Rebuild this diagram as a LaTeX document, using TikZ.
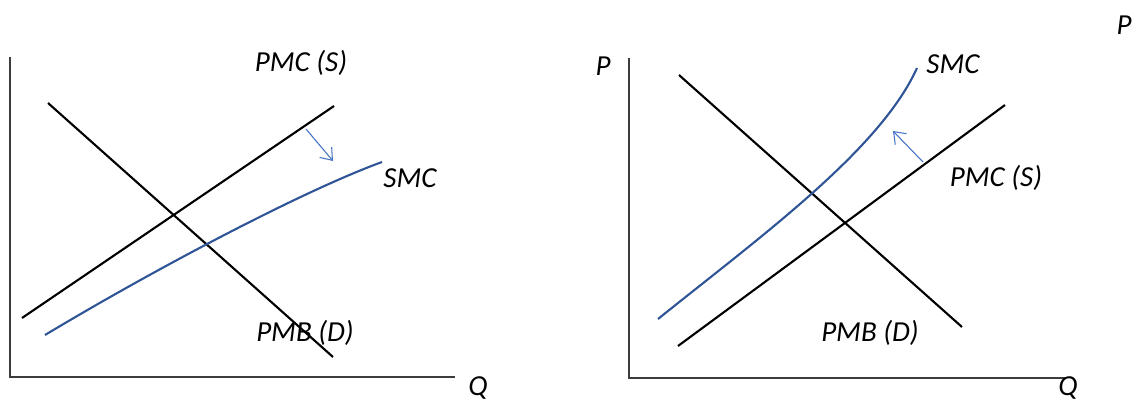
\documentclass[tikz,border=0pt]{standalone}
\usepackage{fontspec}
\setmainfont{Carlito}
\usetikzlibrary{positioning,calc,arrows.meta}
\definecolor{CurveBlue}{RGB}{47,85,151}
\definecolor{ShiftBlue}{RGB}{68,114,196}
\definecolor{AxisGray}{RGB}{60,60,60}

\begin{document}
\begin{tikzpicture}[%
      x=0.02cm, y=-0.02cm,
      lbl/.style={font=\fontsize{16.5}{19}\selectfont\itshape, inner sep=0pt},
      axis/.style={line width=0.7pt, AxisGray},
      curve/.style={line width=1.2pt, black},
      smc/.style={line width=1.2pt, CurveBlue},
      shiftarrow/.style={-{Straight Barb[length=6pt,width=9pt]}, line width=0.6pt, ShiftBlue}
    ]
      \useasboundingbox (0,0) rectangle (1144,403);

      % Left panel: axes
      \coordinate (LTop) at (10,57);
      \coordinate (LO) at (10,377);
      \coordinate (LEnd) at (455,377);
      \draw[axis] (LTop) -- (LO) -- (LEnd);

      % Left panel: curves
      \coordinate (LSa) at (22,318);   \coordinate (LSb) at (334,106);
      \coordinate (LDa) at (48,103);   \coordinate (LDb) at (333,357);
      \coordinate (LMa) at (45,335);   \coordinate (LMb) at (382,162);
      \draw[curve] (LSa) -- (LSb);
      \draw[curve] (LDa) -- (LDb);
      \draw[smc] (LMa) .. controls (150,272) and (300,192) .. (LMb);
      \coordinate (LArrA) at (306,129);  \coordinate (LArrB) at (333,161);
      \draw[shiftarrow] (LArrA) -- (LArrB);

      % Left panel: labels
      \node[lbl] (lpmc) at (301,63) {PMC (S)};
      \node[lbl] (lsmc) at (410,178) {SMC};
      \node[lbl] (lpmb) at (305,333) {PMB (D)};
      \node[lbl] (lq) at (478,388) {Q};

      % Right panel: axes
      \coordinate (RTop) at (629,58);
      \coordinate (RO) at (629,378);
      \coordinate (REnd) at (1065,378);
      \draw[axis] (RTop) -- (RO) -- (REnd);

      % Right panel: curves
      \coordinate (RDa) at (679,75);   \coordinate (RDb) at (962,327);
      \coordinate (RSa) at (678,346);  \coordinate (RSb) at (1005,105);
      \coordinate (RMa) at (658,319);  \coordinate (RMb) at (917,68);
      \draw[curve] (RDa) -- (RDb);
      \draw[curve] (RSa) -- (RSb);
      \draw[smc] (RMa) .. controls (760,237) and (880,150) .. (RMb);
      \coordinate (RArrA) at (923,162);  \coordinate (RArrB) at (893,131);
      \draw[shiftarrow] (RArrA) -- (RArrB);

      % Right panel: labels
      \node[lbl] (rp) at (603,66) {P};
      \node[lbl] (rsmc) at (953,64) {SMC};
      \node[lbl] (rpmc) at (996,178) {PMC (S)};
      \node[lbl] (rpmb) at (870,333) {PMB (D)};
      \node[lbl] (rq) at (1068,388) {Q};
      \node[lbl] (cornerp) at (1124,25) {P};
    \end{tikzpicture}
\end{document}
